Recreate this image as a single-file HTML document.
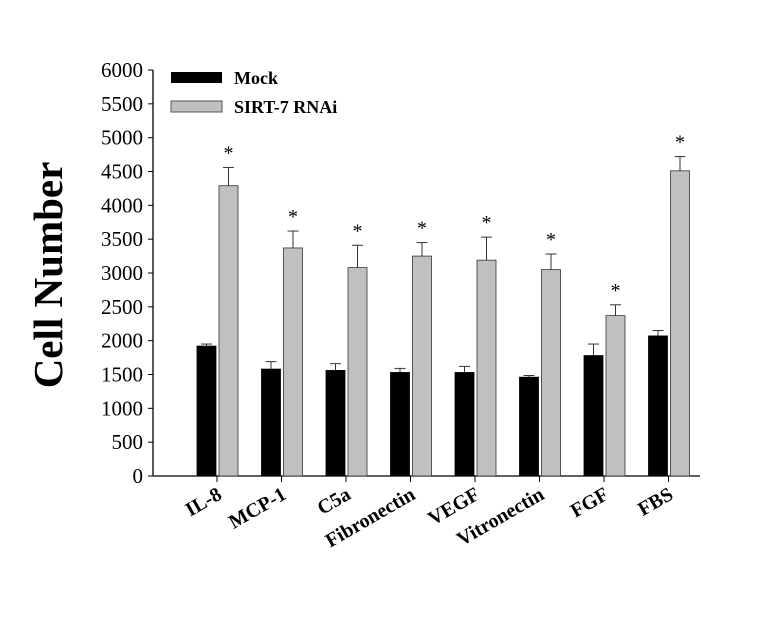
<!DOCTYPE html>
<html><head><meta charset="utf-8"><style>
body{margin:0;background:#fff}
text{font-family:"Liberation Serif",serif}
</style></head><body>
<svg id="c" width="782" height="618" xmlns="http://www.w3.org/2000/svg"></svg>
<script>
const categories=["IL-8","MCP-1","C5a","Fibronectin","VEGF","Vitronectin","FGF","FBS"];
const mockValues=[1920,1580,1560,1530,1530,1460,1780,2070];
const mockErrors=[30,110,100,60,90,25,170,80];
const rnaiValues=[4290,3370,3080,3250,3190,3050,2370,4510];
const rnaiErrors=[270,250,330,200,340,230,160,210];
const yTicks=[0,500,1000,1500,2000,2500,3000,3500,4000,4500,5000,5500,6000];
const NS="http://www.w3.org/2000/svg";
const svg=document.getElementById('c');
const x0=153,y0=476,yTop=70,xEnd=700;
const y=v=>y0-(v/6000)*(y0-yTop);
const xc=i=>217+i*64.5;
function el(t,a,p){const e=document.createElementNS(NS,t);for(const k in a)e.setAttribute(k,a[k]);(p||svg).appendChild(e);return e;}
let e;
e=el('line',{x1:x0,y1:yTop,x2:x0,y2:y0,stroke:'#000','stroke-width':1.3});


e=el('line',{x1:x0,y1:y0,x2:xEnd,y2:y0,stroke:'#000','stroke-width':1.3});


yTicks.forEach(t=>{
 el('line',{x1:x0-5,y1:y(t),x2:x0,y2:y(t),stroke:'#000'});
 e=el('text',{x:x0-10,y:y(t)+7,'text-anchor':'end','font-size':21});
 e.textContent=t;
 
 
});
e=el('text',{transform:'translate(62,275) rotate(-90)','text-anchor':'middle','font-size':41,'font-weight':'bold'});
e.textContent='Cell Number';


function bar(xl,v,err,fill,name){
 const ty=y(v+err);
 el('line',{x1:xl+9.5,y1:ty,x2:xl+9.5,y2:y(v),stroke:'#333'});
 el('line',{x1:xl+4,y1:ty,x2:xl+15,y2:ty,stroke:'#333'});
 e=el('rect',{x:xl,y:y(v),width:19,height:y0-y(v),fill:fill,stroke:fill==='#000'?'#000':'#333','stroke-width':0.8});
 
 
 return ty;
}
categories.forEach((c,i)=>{
 const cx=xc(i);
 el('line',{x1:cx,y1:y0,x2:cx,y2:y0+6,stroke:'#000'});
 bar(cx-20,mockValues[i],mockErrors[i],'#000','bar-mock-'+c.toLowerCase());
 const ty=bar(cx+2,rnaiValues[i],rnaiErrors[i],'#c0c0c0','bar-rnai-'+c.toLowerCase());
 e=el('text',{x:cx+11.5,y:ty-8,'text-anchor':'middle','font-size':20});
 e.textContent='*';
 
 
 e=el('text',{transform:`translate(${cx+6},${y0+22}) rotate(-30)`,'text-anchor':'end','font-size':20,'font-weight':'bold'});
 e.textContent=c;
 
 
});
e=el('rect',{x:171,y:72,width:51,height:11,fill:'#000'});


e=el('text',{x:234,y:84,'font-size':18,'font-weight':'bold'});e.textContent='Mock';


e=el('rect',{x:171,y:101,width:51,height:11,fill:'#c0c0c0',stroke:'#555'});


e=el('text',{x:234,y:113,'font-size':18,'font-weight':'bold'});e.textContent='SIRT-7 RNAi';


</script>
</body></html>
